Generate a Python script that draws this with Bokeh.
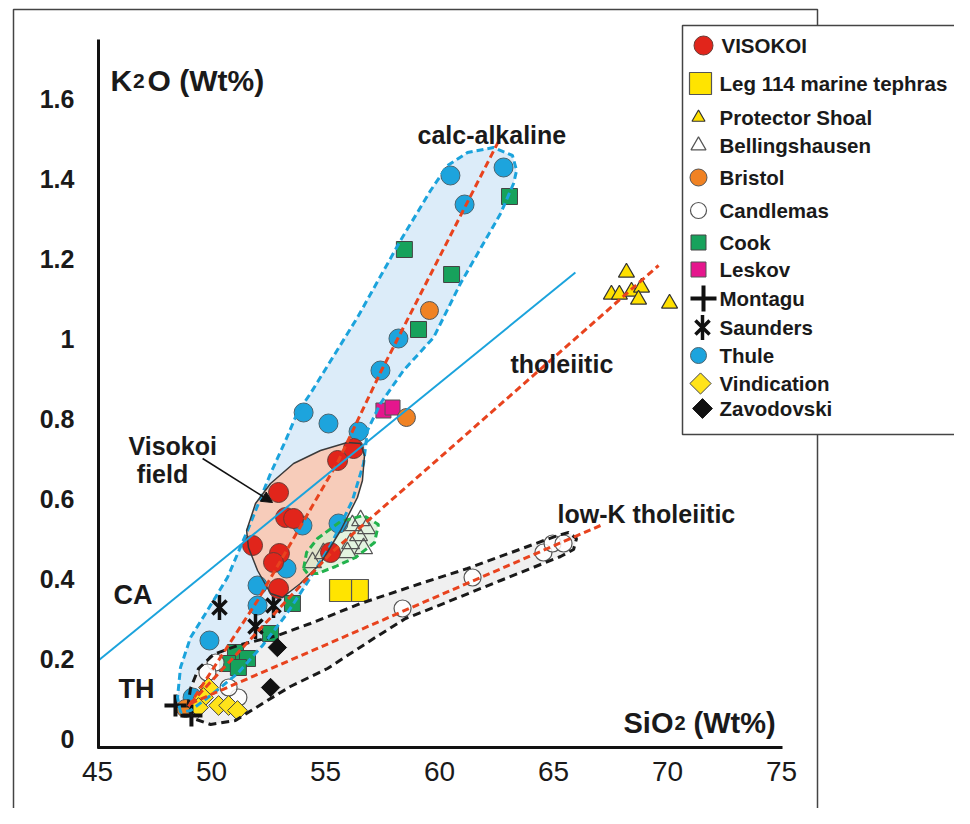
import numpy as np
from bokeh.plotting import figure
from bokeh.models import Range1d, FixedTicker, CustomJSTickFormatter, Arrow, NormalHead
from bokeh.core.properties import value
from bokeh.embed import file_html
from bokeh.resources import INLINE

# ---------------- data (SiO2 wt%, K2O wt%) ----------------
x_ticks = [45, 50, 55, 60, 65, 70, 75]
y_ticks = [0, 0.2, 0.4, 0.6, 0.8, 1.0, 1.2, 1.4, 1.6]

visokoi_sio2 = [56.23, 55.53, 52.94, 53.25, 53.60, 51.80, 52.98, 52.72, 52.94, 55.22]
visokoi_k2o = [0.725, 0.695, 0.615, 0.5525, 0.55, 0.4825, 0.4625, 0.44, 0.375, 0.465]
leg114_sio2 = [56.40, 55.66]
leg114_k2o = [0.37, 0.37]
protector_sio2 = [68.20, 67.54, 67.89, 68.42, 68.86, 68.73, 70.09]
protector_k2o = [1.165, 1.11, 1.11, 1.1175, 1.1275, 1.0975, 1.0875]
bell_sio2 = [56.18, 56.54, 56.80, 56.45, 56.10, 56.67, 55.96, 54.43, 54.91]
bell_k2o = [0.5325, 0.545, 0.525, 0.5075, 0.4875, 0.475, 0.465, 0.44, 0.4625]
bristol_sio2 = [59.56, 58.55, 48.86]
bristol_k2o = [1.07, 0.8025, 0.075]
candlemas_sio2 = [58.38, 61.45, 64.56, 64.96, 65.44, 50.18, 49.82, 51.18, 50.75]
candlemas_k2o = [0.325, 0.4025, 0.465, 0.4875, 0.4875, 0.19, 0.165, 0.1025, 0.1275]
cook_sio2 = [63.07, 58.46, 60.53, 59.08, 53.55, 52.59, 51.05, 51.58, 50.70, 51.18]
cook_k2o = [1.355, 1.2225, 1.16, 1.0225, 0.3375, 0.2625, 0.215, 0.2, 0.1875, 0.1775]
leskov_sio2 = [57.54, 57.94]
leskov_k2o = [0.82, 0.8275]
montagu_sio2 = [48.42, 49.12]
montagu_k2o = [0.0825, 0.0575]
saunders_sio2 = [50.35, 52.72, 51.93]
saunders_k2o = [0.3275, 0.3325, 0.28]
thule_sio2 = [60.48, 62.81, 61.10, 58.20, 57.41, 54.04, 55.13, 56.45, 53.99, 53.29, 52.02, 52.02, 49.91, 49.17, 55.57]
thule_k2o = [1.4075, 1.4275, 1.335, 1.0, 0.92, 0.815, 0.7875, 0.7675, 0.5325, 0.425, 0.3825, 0.3325, 0.245, 0.1025, 0.5375]
vindication_sio2 = [49.87, 49.65, 50.31, 50.75, 51.14, 49.43]
vindication_k2o = [0.1275, 0.1025, 0.0825, 0.0825, 0.07, 0.0775]
zavodovski_sio2 = [52.89, 52.59]
zavodovski_k2o = [0.2275, 0.1275]

# fields (outlines)
ca_field_sio2 = [48.64, 48.51, 48.64, 49.08, 49.82, 50.70, 51.58, 52.59, 53.25, 53.77, 54.34, 56.40, 58.29, 59.61,
                 60.35, 61.23, 62.37, 63.20, 63.38, 63.25, 62.68, 60.92, 59.74, 58.42, 57.41, 56.84, 56.67, 56.18,
                 55.22, 54.12, 53.25, 52.24, 51.14, 49.96, 49.08]
ca_field_k2o = [0.065, 0.1025, 0.1775, 0.2525, 0.32, 0.4025, 0.52, 0.6625, 0.745, 0.815, 0.8625, 1.0525, 1.245, 1.37,
                1.4325, 1.465, 1.4775, 1.4575, 1.42, 1.3875, 1.3125, 1.1375, 1.0025, 0.92, 0.8375, 0.77, 0.6875, 0.595,
                0.4825, 0.3825, 0.3075, 0.2325, 0.1625, 0.1075, 0.07]
visokoi_field_sio2 = [56.54, 56.71, 56.62, 56.40, 55.66, 54.78, 53.90, 53.11, 52.59, 52.02, 51.62, 51.54, 51.93,
                      52.59, 53.60, 54.78, 55.96]
visokoi_field_k2o = [0.7375, 0.7075, 0.645, 0.6025, 0.52, 0.4375, 0.3875, 0.3525, 0.3625, 0.42, 0.4775, 0.52, 0.5875,
                     0.6375, 0.6875, 0.72, 0.74]
bell_field_sio2 = [54.04, 54.17, 54.65, 55.66, 56.67, 57.32, 57.15, 56.32, 55.44, 54.65, 54.21]
bell_field_k2o = [0.425, 0.465, 0.5, 0.5425, 0.5575, 0.535, 0.49, 0.4525, 0.43, 0.4125, 0.4125]
lowk_field_sio2 = [48.95, 49.08, 49.43, 50.09, 51.14, 52.89, 54.34, 56.54, 59.17, 61.23, 65.18, 65.66, 66.01, 65.88,
                   65.31, 62.68, 59.74, 58.51, 57.11, 55.09, 53.46, 52.24, 51.05, 49.96, 49.21]
lowk_field_k2o = [0.0775, 0.125, 0.175, 0.21, 0.2325, 0.2575, 0.2875, 0.3375, 0.3875, 0.425, 0.5075, 0.515, 0.5,
                  0.4725, 0.455, 0.395, 0.3275, 0.30, 0.25, 0.175, 0.13, 0.0875, 0.045, 0.035, 0.05]

# trend lines
ca_trend_sio2 = [48.99, 52.02, 55.53, 57.41, 62.63]
ca_trend_k2o = [0.08, 0.345, 0.69, 0.915, 1.4975]
th_trend_sio2 = [49.08, 55.22, 69.61]
th_trend_k2o = [0.0875, 0.4625, 1.1825]
lowk_trend_sio2 = [49.08, 67.06]
lowk_trend_k2o = [0.0875, 0.5325]
ca_th_sio2 = [45.04, 65.96]
ca_th_k2o = [0.195, 1.165]

legend_names = ["VISOKOI", "Leg 114 marine tephras", "Protector Shoal", "Bellingshausen", "Bristol", "Candlemas",
                "Cook", "Leskov", "Montagu", "Saunders", "Thule", "Vindication", "Zavodovski"]

# ---------------- layout ----------------
W, H = 954, 808
XS, YS = 22.8, 400.0
X_START = 45 - 97 / XS
Y_END = 738 / YS


def px(xp):
    return X_START + xp / XS


def py(yp):
    return Y_END - yp / YS


FONT = "Liberation Sans"
INK = "#1a1a1a"

p = figure(width=W, height=H, x_range=Range1d(X_START, X_START + W / XS),
           y_range=Range1d(Y_END - H / YS, Y_END), output_backend="svg",
           toolbar_location=None, min_border=0, outline_line_color=None,
           background_fill_color="white", border_fill_color="white")
p.grid.visible = False

xa = p.xaxis[0]
ya = p.yaxis[0]
xa.fixed_location = -0.0225
ya.fixed_location = 45.04
xa.bounds = (45.0, 75.04)
ya.bounds = (-0.026, 1.7475)
xa.ticker = FixedTicker(ticks=x_ticks)
ya.ticker = FixedTicker(ticks=y_ticks)
ya.formatter = CustomJSTickFormatter(code="return String(Math.round(tick*10)/10);")
for ax in (xa, ya):
    ax.axis_line_width = 3
    ax.axis_line_color = "#111111"
    ax.major_tick_line_color = None
    ax.minor_tick_line_color = None
    ax.major_label_text_font = FONT
    ax.major_label_text_color = INK
xa.major_label_text_font_size = "28px"
xa.major_label_text_font_style = "normal"
xa.major_label_standoff = 8
ya.major_label_text_font_size = "25px"
ya.major_label_text_font_style = "bold"
ya.major_label_standoff = 18

# outer frame
p.line([px(13), px(13), px(817), px(817)], [py(840), py(9), py(9), py(840)], line_color="#444444", line_width=1.5)

# field fills
p.patch(ca_field_sio2, ca_field_k2o, fill_color="#dcecf9", line_color=None)
p.patch(lowk_field_sio2, lowk_field_k2o, fill_color="#eeeeee", line_color=None, fill_alpha=0.9)
p.patch(visokoi_field_sio2, visokoi_field_k2o, fill_color="#f9c9b3", fill_alpha=0.9, line_color=None)
p.patch(bell_field_sio2, bell_field_k2o, fill_color="#d7efd3", fill_alpha=0.7, line_color=None)

styles = {
    "VISOKOI": dict(marker="circle", size=20, lsize=19, fill="#e1251b", line="#6a3b35", lw=1),
    "Leg 114 marine tephras": dict(marker="square", size=22, lsize=22, fill="#ffe400", line="#555555", lw=1.2),
    "Protector Shoal": dict(marker="triangle", size=16, lsize=13, fill="#ffe000", line="#333333", lw=1.2),
    "Bellingshausen": dict(marker="triangle", size=18, lsize=15, fill=None, line="#555555", lw=1.2),
    "Bristol": dict(marker="circle", size=18, lsize=17, fill="#f08223", line="#555555", lw=1),
    "Candlemas": dict(marker="circle", size=17, lsize=16, fill="white", line="#555555", lw=1.2),
    "Cook": dict(marker="square", size=16, lsize=15, fill="#17a25c", line="#444444", lw=1),
    "Leskov": dict(marker="square", size=15, lsize=15, fill="#e5168d", line="#555555", lw=1),
    "Montagu": dict(marker="cross", size=22, lsize=26, fill=None, line="#111111", lw=4),
    "Saunders": dict(marker="x", size=20, lsize=20, fill=None, line="#111111", lw=3.5),
    "Thule": dict(marker="circle", size=19, lsize=16, fill="#1da4dd", line="#4a6470", lw=1),
    "Vindication": dict(marker="square", size=14, lsize=15, fill="#ffe31a", line="#444444", lw=1, angle=np.pi / 4),
    "Zavodovski": dict(marker="square", size=13, lsize=14, fill="#111111", line="#111111", lw=1, angle=np.pi / 4),
}


def draw(name, xs, ys, legend=False):
    s = styles[name]
    size = s["lsize"] if legend else s["size"]
    fill_alpha = 0.85 if (name == "Candlemas" and not legend) else 1.0
    p.scatter(xs, ys, marker=s["marker"], size=size, fill_color=s["fill"], fill_alpha=fill_alpha,
              line_color=s["line"], line_width=s["lw"], angle=s.get("angle", 0))
    if name == "Saunders":
        p.scatter(xs, ys, marker="dash", size=size * 1.25, angle=np.pi / 2, line_color=s["line"],
                  line_width=s["lw"])


series = [
    ("Thule", thule_sio2, thule_k2o),
    ("Cook", cook_sio2, cook_k2o),
    ("Leskov", leskov_sio2, leskov_k2o),
    ("Bristol", bristol_sio2, bristol_k2o),
    ("Candlemas", candlemas_sio2, candlemas_k2o),
    ("Bellingshausen", bell_sio2, bell_k2o),
    ("Protector Shoal", protector_sio2, protector_k2o),
    ("Vindication", vindication_sio2, vindication_k2o),
    ("Zavodovski", zavodovski_sio2, zavodovski_k2o),
    ("Montagu", montagu_sio2, montagu_k2o),
    ("Saunders", saunders_sio2, saunders_k2o),
    ("VISOKOI", visokoi_sio2, visokoi_k2o),
    ("Leg 114 marine tephras", leg114_sio2, leg114_k2o),
]
for name, xs, ys in series:
    draw(name, xs, ys)


def closed(a):
    return list(a) + [a[0]]


# field outlines
p.line(closed(lowk_field_sio2), closed(lowk_field_k2o), line_color="#1a1a1a", line_width=3, line_dash="8 5")
p.line(closed(ca_field_sio2), closed(ca_field_k2o), line_color="#1ba3dc", line_width=3, line_dash="7 4")
p.line(closed(bell_field_sio2), closed(bell_field_k2o), line_color="#22b24c", line_width=3, line_dash="7 4")
p.line(closed(visokoi_field_sio2), closed(visokoi_field_k2o), line_color="#3a3a3a", line_width=1.5)

# trend lines
RED = "#e8431e"
p.line(ca_trend_sio2, ca_trend_k2o, line_color=RED, line_width=3, line_dash="7 4")
p.line(th_trend_sio2, th_trend_k2o, line_color=RED, line_width=3, line_dash="7 4")
p.line(lowk_trend_sio2, lowk_trend_k2o, line_color=RED, line_width=3, line_dash="7 4")
p.line(ca_th_sio2, ca_th_k2o, line_color="#1ba3dc", line_width=2)

# arrow to the Visokoi field
p.add_layout(Arrow(end=NormalHead(size=11, fill_color="#111111", line_color="#111111"),
                   x_start=49.61, y_start=0.70, x_end=52.68, y_end=0.59,
                   line_color="#111111", line_width=1.5))


def label(txt, xp, yp, size, align="left", style="bold", baseline="alphabetic"):
    p.text(x=[px(xp)], y=[py(yp)], text=[txt], text_font=value(FONT), text_font_size=f"{size}px",
           text_font_style=style, text_align=align, text_baseline=baseline, text_color=INK)


# axis titles (inside plot)
label("K", 110, 80, 30)
label("2", 132.5, 80, 21)
label("O (Wt%)", 147, 80, 30)
label("SiO", 623, 722, 29)
label("2", 674, 722, 20)
label("(Wt%)", 693, 722, 29)

# annotations
label("calc-alkaline", 417, 134, 25)
label("tholeiitic", 510, 363, 25)
label("low-K tholeiitic", 557, 513, 25)
label("Visokoi", 128, 445, 25)
label("field", 162, 473, 25, align="center")
label("CA", 113, 594, 27)
label("TH", 118, 688, 27)

# legend box
p.quad(left=[px(682)], right=[px(990)], top=[py(25)], bottom=[py(434)], fill_color="white",
       line_color="#444444", line_width=1.5)
legend_y = [45, 83, 117, 145, 177, 210, 242, 269, 298, 327, 355, 383, 408]
legend_mx = [703, 700, 698, 698, 698, 698, 698, 698, 703, 702, 698, 700, 702]
for name, yy, mx in zip(legend_names, legend_y, legend_mx):
    draw(name, [px(mx)], [py(yy)], legend=True)
    label(name, 721 if name == "VISOKOI" else 719, yy, 20.5, baseline="middle")

open("out.html", "w").write(file_html(p, INLINE))
